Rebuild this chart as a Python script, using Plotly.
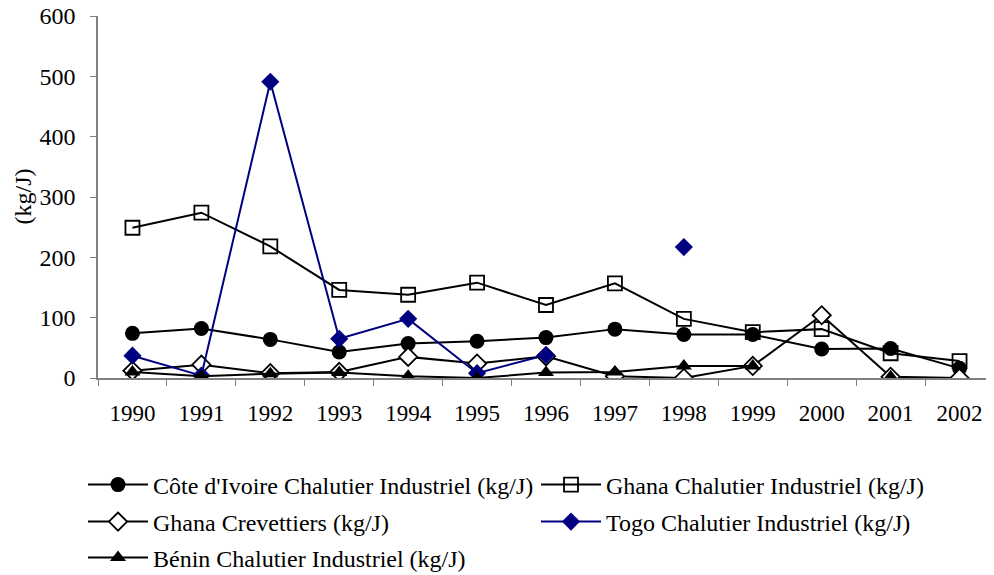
import plotly.graph_objects as go

years = ["1990","1991","1992","1993","1994","1995","1996","1997","1998","1999","2000","2001","2002"]
civ_chal = [74, 82, 64, 43, 57, 61, 67, 81, 72, 72, 48, 49, 16]
gha_chal = [249, 274, 218, 146, 138, 158, 121, 157, 98, 76, 81, 41, 28]
gha_crev = [12, 22, 8, 10, 35, 24, 36, 3, 0, 20, 104, 2, 0]
togo_chal = [37, 4, 491, 65, 98, 8, 38, None, 217, None, None, None, None]
benin_chal = [10, 3, 7, 9, 3, 0, 9, 10, 20, 20, None, 2, None]

names = ["Côte d'Ivoire Chalutier Industriel (kg/J)",
         "Ghana Chalutier Industriel (kg/J)",
         "Ghana Crevettiers (kg/J)",
         "Togo Chalutier Industriel (kg/J)",
         "Bénin Chalutier Industriel (kg/J)"]
y_title = "(kg/J)"

FONT = "Liberation Serif"
BLACK = "#000000"
NAVY = "#000080"
# page body has an 8px margin; the figure is sized to the visible area
OFF = 8
W, H = 994 - OFF, 575 - OFF
PL, PT, PB = 98, 16, 378  # plot area edges in screen pixels
PW, PH = 994 - PL, PB - PT

fig = go.Figure()
specs = [
    (civ_chal, names[0], BLACK, dict(symbol="circle", size=15, color=BLACK), "legend"),
    (gha_chal, names[1], BLACK, dict(symbol="square-open", size=14, color=BLACK, line=dict(width=1.8)), "legend2"),
    (gha_crev, names[2], BLACK, dict(symbol="diamond", size=14, color="white", line=dict(width=1.8, color=BLACK)), "legend3"),
    (togo_chal, names[3], NAVY, dict(symbol="diamond", size=14, color=NAVY), "legend4"),
    (benin_chal, names[4], BLACK, dict(symbol="triangle-up", size=14, color=BLACK), "legend5"),
]
for vals, nm, col, mk, lg in specs:
    fig.add_trace(go.Scatter(x=years, y=vals, name=nm, mode="lines+markers",
                             line=dict(color=col, width=2), marker=mk,
                             connectgaps=False, legend=lg))

def leg(xpx, ypx):
    return dict(xref="container", yref="container", x=(xpx - OFF) / W, y=1 - (ypx - OFF) / H,
                xanchor="left", yanchor="middle", itemwidth=60,
                font=dict(family=FONT, size=24, color=BLACK),
                bgcolor="rgba(0,0,0,0)", borderwidth=0)

fig.update_layout(
    width=W, height=H,
    margin=dict(l=PL - OFF, r=0, t=PT - OFF, b=575 - PB, autoexpand=False),
    paper_bgcolor="white", plot_bgcolor="white",
    font=dict(family=FONT, size=22, color=BLACK),
    showlegend=True,
    legend=leg(83, 485),
    legend2=leg(536, 485),
    legend3=leg(83, 522),
    legend4=leg(536, 522),
    legend5=leg(83, 558),
    xaxis=dict(type="category", range=[-0.5, 12.5], showgrid=False,
               showline=True, linecolor="#808080", linewidth=1.5,
               ticks="outside", tickson="boundaries", ticklen=6, tickcolor="#808080",
               tickfont=dict(family=FONT, size=23, color=BLACK),
               ticklabelstandoff=14, zeroline=False),
    yaxis=dict(range=[0, 600], dtick=100, showgrid=False,
               showline=True, linecolor="#808080", linewidth=1.5,
               ticks="outside", ticklen=6, tickcolor="#808080",
               tickfont=dict(family=FONT, size=24, color=BLACK),
               ticklabelstandoff=10, ticklabeloverflow="allow", zeroline=False),
    annotations=[dict(text=y_title, textangle=-90, showarrow=False,
                      xref="paper", yref="paper",
                      x=(22 - PL) / PW, y=(PB - 196.5) / PH,
                      xanchor="center", yanchor="middle",
                      font=dict(family=FONT, size=24, color=BLACK))],
)

fig.write_html("out.html")
